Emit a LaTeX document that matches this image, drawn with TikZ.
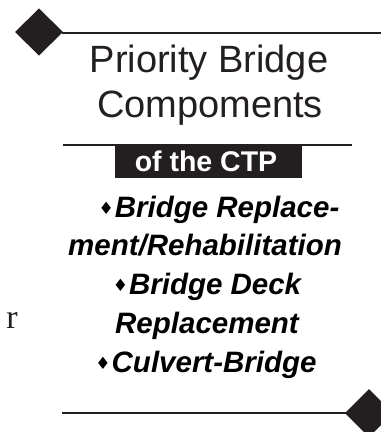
\documentclass[tikz,border=0pt]{standalone}
\usepackage{fontspec}
\setmainfont{Liberation Sans}
\newfontfamily\serifr{Liberation Serif}
\newfontfamily\symb{DejaVu Sans}
\definecolor{ink}{HTML}{231F20}
\tikzset{
  rule/.style={draw=ink, line width=2.4pt},
  bigdia/.style={fill=ink, draw=none},
  title/.style={font=\fontsize{38}{45}\selectfont, text=ink, inner sep=0pt, anchor=base},
  item/.style={font=\fontsize{29.5}{38.7}\selectfont\bfseries\itshape, text=black, inner sep=0pt, anchor=base},
}
\newcommand{\dbul}{{\symb\fontsize{17}{17}\selectfont\raisebox{3pt}{♦}}\hspace{1pt}}
\begin{document}
\begin{tikzpicture}[x=1pt,y=-1pt]
\useasboundingbox (0,0) rectangle (381,432);
% top rule and diamond
\coordinate (t1) at (62,33);
\coordinate (t2) at (381,33);
\draw[rule] (t1) -- (t2);
\path[bigdia] (15,32) -- (39,8.5) -- (63,32) -- (39,55.5) -- cycle;
% title
\node[title] (p1) at (209,72) {Priority Bridge};
\node[title] (p2) at (210,117) {Compoments};
% second rule and box
\coordinate (m1) at (63,145);
\coordinate (m2) at (352,145);
\draw[rule] (m1) -- (m2);
\node[fill=ink, minimum width=187pt, minimum height=34pt, inner sep=0pt, anchor=north west] (box) at (115,144) {};
\node[font=\fontsize{28.5}{28}\selectfont\bfseries, text=white, inner sep=0pt, anchor=base] (ctp) at (206,171) {of the CTP};
% items
\node[item] (i1) at (219,217) {\dbul Bridge Replace-};
\node[item] (i2) at (205,255) {ment/Rehabilitation};
\node[item] (i3) at (207,294) {\dbul Bridge Deck};
\node[item] (i4) at (207,333) {Replacement};
\node[item] (i5) at (206,372) {\dbul Culvert-Bridge};
% bottom rule and diamond
\coordinate (b1) at (62,413);
\coordinate (b2) at (346,413);
\draw[rule] (b1) -- (b2);
\path[bigdia] (345,413) -- (369,389) -- (393,413) -- (369,437) -- cycle;
% stray letter
\node[font=\serifr\fontsize{34}{34}\selectfont, text=ink, inner sep=0pt, anchor=base east] (r) at (18,328) {r};
\end{tikzpicture}
\end{document}
